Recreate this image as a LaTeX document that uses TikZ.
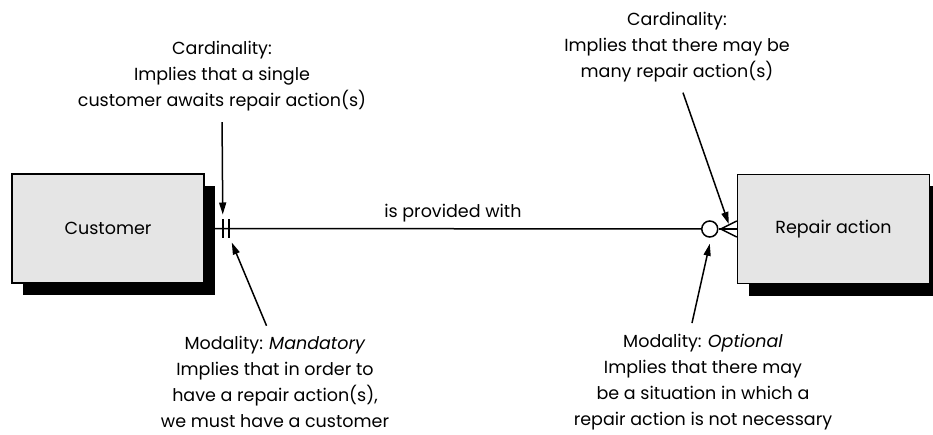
\documentclass[tikz,border=0pt]{standalone}
\usepackage{fontspec}
\setmainfont{Poppins}
\usetikzlibrary{positioning,shadows,arrows.meta}

\begin{document}
\begin{tikzpicture}[
    x=1pt, y=-1pt,
    font=\fontsize{17.5}{26}\selectfont,
    entity/.style={draw, line width=1.5pt, fill=black!10, minimum width=192pt, minimum height=109pt, drop shadow={shadow xshift=11pt, shadow yshift=-12pt, fill=black, opacity=1}},
    note/.style={align=center, inner sep=2pt},
    ptr/.style={-{Triangle[length=12pt, width=7pt]}, line width=1.5pt, shorten <=9pt},
    link/.style={line width=1.5pt}
]
    \useasboundingbox (0,0) rectangle (933,435);

    % Entities
    \node[entity] (cust) at (108,228.5) {Customer};
    \node[entity] (rep) at (833.5,229) {Repair action};

    % Relationship
    \node[circle, draw, line width=1.5pt, fill=white, minimum size=16pt, inner sep=0pt] (opt) at ([xshift=-27pt]rep.west) {};
    \coordinate (foot) at ([xshift=-16pt]rep.west);
    \draw[link] (cust.east) -- (opt.west) node[midway, above=3pt] (verb) {is provided with};
    \draw[link] (opt.east) -- (rep.west);
    \draw[link] (foot) -- ([yshift=8pt]rep.west);
    \draw[link] (foot) -- ([yshift=-8pt]rep.west);

    % Mandatory ticks
    \coordinate (tickA) at ([xshift=18pt]cust.east);
    \coordinate (tickB) at ([xshift=24pt]cust.east);
    \draw[link] ([yshift=9pt]tickA) -- ([yshift=-10pt]tickA);
    \draw[link] ([yshift=9pt]tickB) -- ([yshift=-10pt]tickB);

    % Notes
    \node[note] (cardL) at (222,76) {Cardinality:\\Implies that a single\\customer awaits repair action(s)};
    \node[note] (cardR) at (677,47) {Cardinality:\\Implies that there may be\\many repair action(s)};
    \node[note] (modL) at (275,382) {Modality: \textit{Mandatory}\\Implies that in order to\\have a repair action(s),\\we must have a customer};
    \node[note] (modR) at (703,382) {Modality: \textit{Optional}\\Implies that there may\\be a situation in which a\\repair action is not necessary};

    % Pointers
    \draw[ptr] (cardL.south) -- ([yshift=14pt]tickA);
    \draw[ptr] ([xshift=3pt]cardR.south) -- ([xshift=-8pt, yshift=5pt]rep.west);
    \draw[ptr] ([xshift=-5pt]modL.north) -- ([xshift=9pt, yshift=-14pt]tickA);
    \draw[ptr] ([xshift=-13pt]modR.north) -- ([yshift=-6pt]opt.south);
\end{tikzpicture}
\end{document}
